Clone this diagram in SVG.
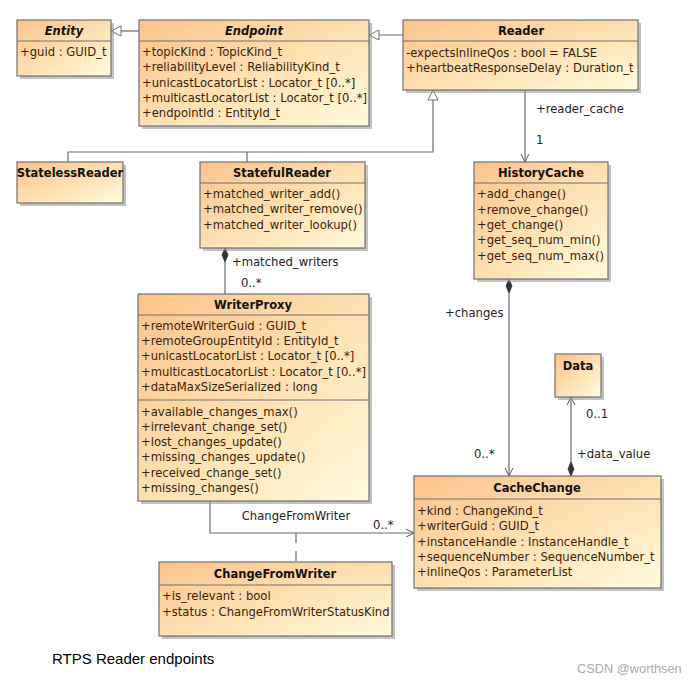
<svg xmlns="http://www.w3.org/2000/svg" width="697" height="684" viewBox="0 0 697 684">
<defs>
<linearGradient id="g" x1="0" y1="0" x2="1" y2="1">
<stop offset="0" stop-color="#fcc38b"/>
<stop offset="0.55" stop-color="#fee2b4"/>
<stop offset="1" stop-color="#fffbdc"/>
</linearGradient>
<marker id="tri" viewBox="0 0 12 12" refX="11" refY="6" markerWidth="12" markerHeight="12" markerUnits="userSpaceOnUse" orient="auto">
<path d="M1,1 L11,6 L1,11 Z" fill="#fff" stroke="#6b6b6b" stroke-width="1"/>
</marker>
<marker id="open" viewBox="0 0 10 10" refX="9" refY="5" markerWidth="10" markerHeight="10" markerUnits="userSpaceOnUse" orient="auto">
<path d="M1,1 L9,5 L1,9" fill="none" stroke="#555" stroke-width="1"/>
</marker>
<marker id="dia" viewBox="0 0 16 8" refX="1" refY="4" markerWidth="16" markerHeight="8" markerUnits="userSpaceOnUse" orient="auto">
<path d="M1,4 L8,1 L15,4 L8,7 Z" fill="#333" stroke="#333" stroke-width="0.8"/>
</marker>
</defs>
<style>
.box{fill:url(#g);stroke:#707070;stroke-width:1.2}
.sh{fill:#9a9a9a;opacity:0.6}
.sep{stroke:#707070;stroke-width:1}
.t{font-family:"DejaVu Sans",sans-serif;font-size:11.5px;fill:#111;font-weight:bold;text-anchor:middle}
.ti{font-style:italic}
.a{font-family:"DejaVu Sans",sans-serif;font-size:11.6px;fill:#3a1f0c}
.l{font-family:"DejaVu Sans",sans-serif;font-size:11.6px;fill:#222}
.c{fill:none;stroke:#6b6b6b;stroke-width:1.2}
</style>
<rect width="697" height="684" fill="#fff"/>

<g id="connectors">
<line class="c" x1="139" y1="31" x2="111" y2="31" marker-end="url(#tri)"/>
<line class="c" x1="403" y1="35" x2="369" y2="35" marker-end="url(#tri)"/>
<path class="c" d="M68,162 V152 H433 V90" marker-end="url(#tri)"/>
<line class="c" x1="247" y1="152" x2="247" y2="162"/>
<line class="c" x1="525" y1="90" x2="525" y2="162" marker-end="url(#open)"/>
<line class="c" x1="225" y1="248" x2="225" y2="294" marker-start="url(#dia)"/>
<line class="c" x1="509" y1="279" x2="509" y2="476" marker-start="url(#dia)" marker-end="url(#open)"/>
<line class="c" x1="571" y1="476" x2="571" y2="397" marker-start="url(#dia)" marker-end="url(#open)"/>
<path class="c" d="M210,501 V533 H414" marker-end="url(#open)"/>
<line class="c" x1="296" y1="533" x2="296" y2="562" stroke-dasharray="10,8"/>
<text class="l" x="536" y="113">+reader_cache</text>
<text class="l" x="536" y="144">1</text>
<text class="l" x="232" y="266">+matched_writers</text>
<text class="l" x="241" y="287">0..*</text>
<text class="l" x="445" y="317">+changes</text>
<text class="l" x="474" y="458">0..*</text>
<text class="l" x="586" y="418">0..1</text>
<text class="l" x="577" y="458">+data_value</text>
<text class="l" x="296" y="520" text-anchor="middle">ChangeFromWriter</text>
<text class="l" x="373" y="529">0..*</text>
</g>

<g id="Entity">
<rect class="sh" x="20" y="23" width="94" height="56"/>
<rect class="box" x="17" y="20" width="94" height="56"/>
<line class="sep" x1="17" y1="41" x2="111" y2="41"/>
<text class="t ti" x="64" y="35">Entity</text>
<text class="a" x="20" y="56">+guid : GUID_t</text>
</g>

<g id="Endpoint">
<rect class="sh" x="142" y="23" width="230" height="106"/>
<rect class="box" x="139" y="20" width="230" height="106"/>
<line class="sep" x1="139" y1="41" x2="369" y2="41"/>
<text class="t ti" x="254" y="35">Endpoint</text>
<text class="a" x="142" y="56">+topicKind : TopicKind_t</text>
<text class="a" x="142" y="71">+reliabilityLevel : ReliabilityKind_t</text>
<text class="a" x="142" y="87">+unicastLocatorList : Locator_t [0..*]</text>
<text class="a" x="142" y="102">+multicastLocatorList : Locator_t [0..*]</text>
<text class="a" x="142" y="117">+endpointId : EntityId_t</text>
</g>

<g id="Reader">
<rect class="sh" x="406" y="23" width="235" height="70"/>
<rect class="box" x="403" y="20" width="235" height="70"/>
<line class="sep" x1="403" y1="41" x2="638" y2="41"/>
<text class="t" x="521" y="35">Reader</text>
<text class="a" x="406" y="57">-expectsInlineQos : bool = FALSE</text>
<text class="a" x="406" y="72">+heartbeatResponseDelay : Duration_t</text>
</g>

<g id="StatelessReader">
<rect class="sh" x="20" y="165" width="106" height="41"/>
<rect class="box" x="17" y="162" width="106" height="41"/>
<text class="t" x="70" y="177">StatelessReader</text>
</g>

<g id="StatefulReader">
<rect class="sh" x="203" y="165" width="165" height="86"/>
<rect class="box" x="200" y="162" width="165" height="86"/>
<line class="sep" x1="200" y1="183" x2="365" y2="183"/>
<text class="t" x="282" y="177">StatefulReader</text>
<text class="a" x="203" y="198">+matched_writer_add()</text>
<text class="a" x="203" y="213">+matched_writer_remove()</text>
<text class="a" x="203" y="229">+matched_writer_lookup()</text>
</g>

<g id="HistoryCache">
<rect class="sh" x="477" y="165" width="134" height="117"/>
<rect class="box" x="474" y="162" width="134" height="117"/>
<line class="sep" x1="474" y1="183" x2="608" y2="183"/>
<text class="t" x="541" y="177">HistoryCache</text>
<text class="a" x="477" y="198">+add_change()</text>
<text class="a" x="477" y="214">+remove_change()</text>
<text class="a" x="477" y="229">+get_change()</text>
<text class="a" x="477" y="244">+get_seq_num_min()</text>
<text class="a" x="477" y="260">+get_seq_num_max()</text>
</g>

<g id="WriterProxy">
<rect class="sh" x="141" y="297" width="231" height="207"/>
<rect class="box" x="138" y="294" width="231" height="207"/>
<line class="sep" x1="138" y1="315" x2="369" y2="315"/>
<line class="sep" x1="138" y1="400" x2="369" y2="400"/>
<text class="t" x="253" y="309">WriterProxy</text>
<text class="a" x="141" y="330">+remoteWriterGuid : GUID_t</text>
<text class="a" x="141" y="345">+remoteGroupEntityId : EntityId_t</text>
<text class="a" x="141" y="360">+unicastLocatorList : Locator_t [0..*]</text>
<text class="a" x="141" y="376">+multicastLocatorList : Locator_t [0..*]</text>
<text class="a" x="141" y="391">+dataMaxSizeSerialized : long</text>
<text class="a" x="141" y="416">+available_changes_max()</text>
<text class="a" x="141" y="431">+irrelevant_change_set()</text>
<text class="a" x="141" y="446">+lost_changes_update()</text>
<text class="a" x="141" y="461">+missing_changes_update()</text>
<text class="a" x="141" y="477">+received_change_set()</text>
<text class="a" x="141" y="492">+missing_changes()</text>
</g>

<g id="Data">
<rect class="sh" x="558" y="357" width="46" height="43"/>
<rect class="box" x="555" y="354" width="46" height="43"/>
<text class="t" x="578" y="370">Data</text>
</g>

<g id="CacheChange">
<rect class="sh" x="417" y="479" width="247" height="112"/>
<rect class="box" x="414" y="476" width="247" height="112"/>
<line class="sep" x1="414" y1="499" x2="661" y2="499"/>
<text class="t" x="537" y="492">CacheChange</text>
<text class="a" x="417" y="515">+kind : ChangeKind_t</text>
<text class="a" x="417" y="530">+writerGuid : GUID_t</text>
<text class="a" x="417" y="546">+instanceHandle : InstanceHandle_t</text>
<text class="a" x="417" y="561">+sequenceNumber : SequenceNumber_t</text>
<text class="a" x="417" y="576">+inlineQos : ParameterList</text>
</g>

<g id="ChangeFromWriter">
<rect class="sh" x="162" y="565" width="233" height="74"/>
<rect class="box" x="159" y="562" width="233" height="74"/>
<line class="sep" x1="159" y1="585" x2="392" y2="585"/>
<text class="t" x="275" y="578">ChangeFromWriter</text>
<text class="a" x="162" y="600">+is_relevant : bool</text>
<text class="a" x="162" y="616">+status : ChangeFromWriterStatusKind</text>
</g>

<text x="52" y="664" style="font-family:'Liberation Sans',Arial,sans-serif;font-size:15px;fill:#000">RTPS Reader endpoints</text>
<text x="577" y="673" style="font-family:'Liberation Sans',Arial,sans-serif;font-size:12.8px;fill:#aaa">CSDN @worthsen</text>
</svg>
